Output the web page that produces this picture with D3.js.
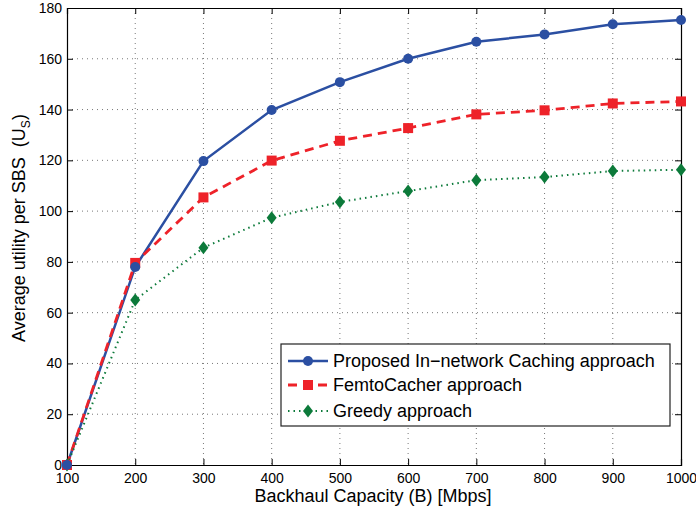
<!DOCTYPE html>
<html><head><meta charset="utf-8">
<script src="https://cdn.jsdelivr.net/npm/d3@7"></script>
<style>body{margin:0;background:#fff}svg{display:block;font-family:"Liberation Sans",Arial,Helvetica,sans-serif}text{white-space:pre}</style>
</head><body><svg id="c" width="696" height="508"></svg>
<script>
const capacities = [100,200,300,400,500,600,700,800,900,1000];
const proposed = [0,78,119.7,139.8,150.8,160,166.7,169.6,173.6,175.3];
const femto = [0,79.6,105.4,119.9,127.7,132.7,138.1,139.7,142.4,143.2];
const greedy = [0,65,85.6,97.4,103.6,107.9,112.2,113.4,115.8,116.3];
const xTicks = [100,200,300,400,500,600,700,800,900,1000];
const yTicks = [0,20,40,60,80,100,120,140,160,180];
const seriesNames = ["Proposed In\u2212network Caching approach","FemtoCacher approach","Greedy approach"];

const svg = d3.select("#c");
const L=67,R=681,T=8,B=465;
const x = d3.scaleLinear().domain([100,1000]).range([L,R]);
const y = d3.scaleLinear().domain([0,180]).range([B,T]);

// grid
const g = svg.append("g");
xTicks.slice(1,-1).forEach(v=>g.append("line").attr("x1",x(v)).attr("x2",x(v)).attr("y1",T).attr("y2",B).attr("stroke","#555").attr("stroke-width",0.8).attr("stroke-dasharray","1,4"));
yTicks.slice(1,-1).forEach(v=>g.append("line").attr("x1",L).attr("x2",R).attr("y1",y(v)).attr("y2",y(v)).attr("stroke","#555").attr("stroke-width",0.8).attr("stroke-dasharray","1,4"));

// axes
const tick=6;
const ax = svg.append("g").attr("transform",`translate(0,${B})`).call(d3.axisBottom(x).tickValues(xTicks).tickSize(-tick).tickPadding(10).tickFormat(d3.format("d")));
const ay = svg.append("g").attr("transform",`translate(${L},0)`).call(d3.axisLeft(y).tickValues(yTicks).tickSize(-tick).tickPadding(5).tickFormat(d3.format("d")));
const at = svg.append("g").attr("transform",`translate(0,${T})`).call(d3.axisTop(x).tickValues(xTicks).tickSize(-tick).tickFormat(""));
const ar = svg.append("g").attr("transform",`translate(${R},0)`).call(d3.axisRight(y).tickValues(yTicks).tickSize(-tick).tickFormat(""));
[ax,ay,at,ar].forEach(a=>{a.select(".domain").attr("stroke","#000").attr("stroke-width",1.2);a.selectAll(".tick line").attr("stroke","#000").attr("stroke-width",1);a.selectAll("text").attr("fill","#000").attr("font-size",14).attr("font-family","Liberation Sans, Arial, sans-serif");});
ax.selectAll("text").attr("dy","0.6em");

// lines
const colors = ["#2B4FA2","#EE2229","#0C7A3A"];
const data = [proposed,femto,greedy];
const line = d3.line().x((d,i)=>x(capacities[i])).y(d=>y(d));
const dashes = [null,"9,6","1.5,4"];
const widths = [2.5,2.8,2];
data.forEach((s,k)=>{
  svg.append("path").datum(s).attr("d",line).attr("fill","none").attr("stroke",colors[k]).attr("stroke-width",widths[k]).attr("stroke-dasharray",dashes[k]);
});
function marker(sel,k,cx,cy){
  if(k===0) sel.append("circle").attr("cx",cx).attr("cy",cy).attr("r",5).attr("fill",colors[0]);
  else if(k===1) sel.append("rect").attr("x",cx-5).attr("y",cy-5).attr("width",10).attr("height",10).attr("fill",colors[1]);
  else sel.append("path").attr("d",`M${cx},${cy-6.5}L${cx+5},${cy}L${cx},${cy+6.5}L${cx-5},${cy}Z`).attr("fill",colors[2]);
}
[2,1,0].forEach(k=>data[k].forEach((v,i)=>marker(svg,k,x(capacities[i]),y(v))));

// legend
const lg = svg.append("g");
lg.append("rect").attr("x",281).attr("y",344).attr("width",389).attr("height",82).attr("fill","#fff").attr("stroke","#222").attr("stroke-width",1.2);
const rows=[361,385,411];
seriesNames.forEach((n,k)=>{
  lg.append("line").attr("x1",288).attr("x2",328).attr("y1",rows[k]).attr("y2",rows[k]).attr("stroke",colors[k]).attr("stroke-width",widths[k]).attr("stroke-dasharray",dashes[k]);
  marker(lg,k,308,rows[k]);
  lg.append("text").attr("x",333).attr("y",rows[k]).attr("dy","0.35em").attr("font-size",18).attr("fill","#000").text(n);
});

// axis labels
svg.append("text").attr("x",373).attr("y",502).attr("text-anchor","middle").attr("font-size",18).attr("fill","#000").text("Backhaul Capacity (B) [Mbps]");
const yl = svg.append("text").attr("transform",`translate(25,228) rotate(-90)`).attr("text-anchor","middle").attr("font-size",18).attr("fill","#000");
yl.append("tspan").text("Average utility per SBS  (U");
yl.append("tspan").attr("font-size",12).attr("dy",5).text("S");
yl.append("tspan").attr("dy",-5).text(")");
</script></body></html>
